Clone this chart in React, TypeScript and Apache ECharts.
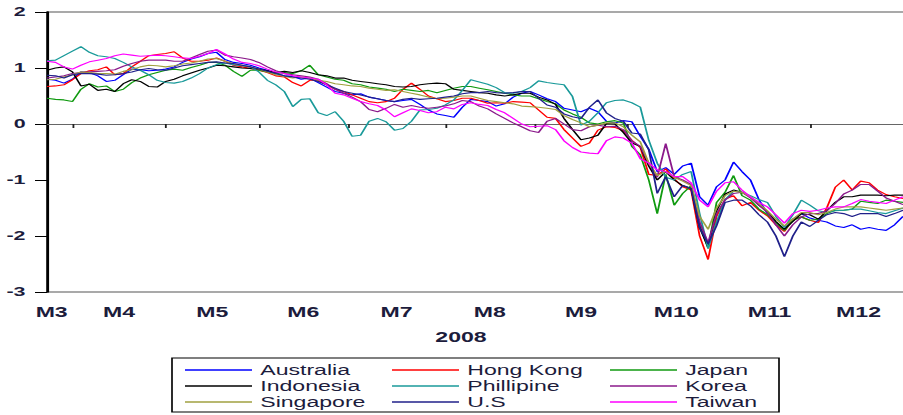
import React, { useEffect, useRef } from 'react';
import * as echarts from 'echarts';

// Trading-day index (weekdays from 24 Mar 2008), sampled every STEP days
const STEP = 2;
const X_MAX = 205;
const monthTicks = [6, 28, 50, 71, 94, 115, 137, 160, 180];
const monthLabelPos = [1.1, 17, 39, 60.5, 82.5, 104.5, 126, 148.5, 170.5, 191.5];
const monthLabels = ['M3', 'M4', 'M5', 'M6', 'M7', 'M8', 'M9', 'M10', 'M11', 'M12'];
const yearLabel = '2008';
const Y_MIN = -3;
const Y_MAX = 2;
const Y_INTERVAL = 1;

const seriesNames = ['Australia', 'Hong Kong', 'Japan', 'Indonesia', 'Phillipine', 'Korea', 'Singapore', 'U.S', 'Taiwan'];
const seriesColors = ['#0000ff', '#ff0000', '#109a10', '#000000', '#1a9a9a', '#8b1a8b', '#a0a040', '#20208a', '#ff00ff'];
const legendCols = [
  ['Australia', 'Indonesia', 'Singapore'],
  ['Hong Kong', 'Phillipine', 'U.S'],
  ['Japan', 'Korea', 'Taiwan'],
];

const australia = [
  0.80, 0.78, 0.73, 0.80, 0.93, 0.92, 0.86, 0.76, 0.78, 0.88,
  0.98, 0.97, 0.95, 0.96, 0.98, 1.02, 1.10, 1.16, 1.20, 1.26,
  1.28, 1.15, 1.10, 1.08, 1.05, 1.00, 0.96, 0.90, 0.86, 0.85,
  0.80, 0.82, 0.74, 0.66, 0.58, 0.55, 0.52, 0.54, 0.48, 0.45,
  0.42, 0.40, 0.42, 0.44, 0.35, 0.25, 0.18, 0.15, 0.12, 0.30,
  0.44, 0.42, 0.40, 0.32, 0.36, 0.48, 0.55, 0.58, 0.52, 0.45,
  0.40, 0.28, 0.25, 0.22, 0.28, 0.22, 0.05, 0.02, 0.06, 0.04,
  -0.22, -0.45, -0.85, -0.78, -0.90, -0.75, -0.70, -1.30, -1.45, -1.12,
  -1.00, -0.68, -0.85, -1.00, -1.35, -1.60, -1.80, -1.88, -1.70, -1.60,
  -1.68, -1.72, -1.75, -1.82, -1.85, -1.80, -1.88, -1.85, -1.88, -1.90,
  -1.80, -1.65,
];
const hongKong = [
  0.67, 0.68, 0.70, 0.79, 0.90, 0.95, 0.97, 1.02, 0.88, 0.90,
  1.02, 1.12, 1.22, 1.24, 1.26, 1.29, 1.18, 1.12, 1.12, 1.14,
  1.18, 1.12, 1.05, 1.02, 0.99, 0.96, 0.92, 0.86, 0.84, 0.74,
  0.68, 0.78, 0.78, 0.70, 0.62, 0.58, 0.52, 0.46, 0.40, 0.38,
  0.40, 0.46, 0.62, 0.73, 0.62, 0.50, 0.45, 0.40, 0.42, 0.46,
  0.46, 0.42, 0.37, 0.38, 0.37, 0.40, 0.39, 0.38, 0.25, 0.12,
  0.10, -0.10, -0.25, -0.40, -0.34, -0.11, -0.05, -0.06, -0.12, -0.29,
  -0.42, -0.90, -0.92, -0.80, -0.98, -1.12, -1.18, -2.00, -2.42, -1.65,
  -1.34, -1.28, -1.46, -1.40, -1.54, -1.64, -1.80, -1.92, -1.70, -1.66,
  -1.72, -1.76, -1.50, -1.13, -1.00, -1.18, -1.02, -1.05, -1.18, -1.26,
  -1.30, -1.33,
];
const japan = [
  0.46, 0.44, 0.43, 0.40, 0.62, 0.72, 0.66, 0.68, 0.58, 0.62,
  0.74, 0.82, 0.88, 0.92, 0.96, 0.98, 0.96, 1.01, 1.05, 1.10,
  1.10, 1.05, 0.94, 0.85, 0.96, 0.96, 0.93, 0.90, 0.92, 0.90,
  0.95, 1.05, 0.88, 0.84, 0.80, 0.78, 0.72, 0.70, 0.66, 0.64,
  0.62, 0.58, 0.62, 0.60, 0.58, 0.60, 0.56, 0.60, 0.64, 0.67,
  0.67, 0.64, 0.61, 0.58, 0.55, 0.52, 0.50, 0.50, 0.45, 0.40,
  0.36, 0.25, 0.18, 0.12, 0.02, 0.00, 0.04, 0.06, 0.02, -0.40,
  -0.55, -1.00, -1.60, -0.90, -1.45, -1.24, -1.10, -1.80, -2.22, -1.40,
  -1.22, -0.92, -1.28, -1.36, -1.52, -1.62, -1.76, -1.90, -1.72, -1.66,
  -1.72, -1.70, -1.60, -1.54, -1.54, -1.52, -1.38, -1.40, -1.42, -1.36,
  -1.38, -1.40,
];
const indonesia = [
  0.96, 1.00, 1.02, 0.93, 0.68, 0.71, 0.60, 0.62, 0.58, 0.72,
  0.79, 0.76, 0.67, 0.66, 0.76, 0.80, 0.86, 0.91, 0.96, 1.00,
  1.05, 1.04, 1.02, 1.00, 0.99, 0.98, 0.95, 0.92, 0.94, 0.92,
  0.95, 0.92, 0.88, 0.86, 0.82, 0.82, 0.78, 0.76, 0.74, 0.72,
  0.70, 0.67, 0.66, 0.67, 0.70, 0.72, 0.73, 0.72, 0.62, 0.60,
  0.58, 0.56, 0.55, 0.52, 0.50, 0.52, 0.55, 0.55, 0.48, 0.43,
  0.35, 0.10, -0.10, -0.28, -0.25, -0.20, 0.01, 0.00, -0.15, -0.34,
  -0.40, -0.75, -1.00, -0.85, -1.00, -1.10, -1.15, -1.85, -2.20, -1.55,
  -1.25, -1.18, -1.22, -1.30, -1.45, -1.56, -1.74, -1.88, -1.74, -1.60,
  -1.62, -1.70, -1.55, -1.40, -1.30, -1.30, -1.27, -1.27, -1.27, -1.28,
  -1.27, -1.27,
];
const phillipine = [
  1.13, 1.14, 1.22, 1.30, 1.38, 1.28, 1.22, 1.20, 1.17, 1.10,
  1.02, 0.96, 0.88, 0.78, 0.74, 0.73, 0.76, 0.82, 0.90, 1.00,
  1.06, 1.09, 1.06, 1.04, 1.02, 0.93, 0.78, 0.70, 0.58, 0.31,
  0.44, 0.45, 0.20, 0.15, 0.22, 0.05, -0.22, -0.20, 0.05, 0.10,
  0.04, -0.11, -0.08, 0.05, 0.25, 0.26, 0.28, 0.34, 0.43, 0.60,
  0.79, 0.75, 0.71, 0.65, 0.56, 0.55, 0.58, 0.65, 0.77, 0.74,
  0.72, 0.70, 0.49, -0.02, 0.05, 0.20, 0.38, 0.42, 0.43, 0.38,
  0.30, -0.29, -0.70, -0.95, -1.00, -0.90, -0.85, -1.60, -2.22, -1.75,
  -1.35, -1.20, -1.22, -1.28, -1.35, -1.40, -1.65, -1.85, -1.62, -1.36,
  -1.45, -1.55, -1.58, -1.55, -1.54, -1.52, -1.52, -1.55, -1.58, -1.60,
  -1.55, -1.50,
];
const korea = [
  0.82, 0.84, 0.86, 0.90, 0.92, 0.93, 0.94, 0.95, 0.97, 1.03,
  1.08, 1.12, 1.14, 1.14, 1.14, 1.12, 1.12, 1.18, 1.24, 1.30,
  1.32, 1.23, 1.20, 1.18, 1.15, 1.10, 1.02, 0.95, 0.90, 0.88,
  0.86, 0.84, 0.80, 0.72, 0.62, 0.55, 0.48, 0.40, 0.26, 0.22,
  0.28, 0.35, 0.30, 0.33, 0.30, 0.28, 0.30, 0.32, 0.36, 0.42,
  0.40, 0.32, 0.27, 0.18, 0.10, 0.02, -0.05, -0.12, -0.15, 0.05,
  0.10, 0.00, -0.10, -0.12, -0.05, -0.02, -0.05, -0.04, -0.10, -0.30,
  -0.40, -0.70, -0.95, -0.35, -0.94, -1.00, -1.08, -1.75, -2.12, -1.60,
  -1.36, -1.24, -1.22, -1.32, -1.45, -1.58, -1.80, -2.00, -1.80, -1.66,
  -1.60, -1.60, -1.55, -1.42, -1.25, -1.18, -1.08, -1.08, -1.20, -1.32,
  -1.38, -1.44,
];
const singapore = [
  0.79, 0.80, 0.84, 0.88, 0.93, 0.92, 0.90, 0.90, 0.89, 0.94,
  0.97, 1.02, 1.05, 1.04, 1.02, 1.04, 1.07, 1.09, 1.12, 1.16,
  1.17, 1.12, 1.08, 1.05, 1.02, 0.98, 0.93, 0.88, 0.85, 0.82,
  0.84, 0.82, 0.78, 0.76, 0.72, 0.70, 0.68, 0.67, 0.64, 0.62,
  0.60, 0.61, 0.58, 0.55, 0.52, 0.48, 0.45, 0.46, 0.48, 0.50,
  0.50, 0.46, 0.42, 0.40, 0.38, 0.36, 0.32, 0.31, 0.30, 0.28,
  0.26, 0.15, 0.08, 0.02, -0.05, -0.02, 0.02, 0.02, -0.05, -0.20,
  -0.32, -0.70, -0.92, -0.85, -0.95, -1.02, -1.10, -1.65, -1.88, -1.50,
  -1.28, -1.20, -1.22, -1.30, -1.42, -1.55, -1.70, -1.82, -1.70, -1.58,
  -1.58, -1.62, -1.58, -1.52, -1.48, -1.48, -1.48, -1.50, -1.52, -1.54,
  -1.52, -1.50,
];
const us = [
  0.87, 0.86, 0.82, 0.88, 0.90, 0.90, 0.89, 0.87, 0.88, 0.90,
  0.93, 0.97, 0.99, 0.97, 0.96, 1.00, 1.04, 1.06, 1.08, 1.10,
  1.11, 1.09, 1.08, 1.05, 1.02, 0.98, 0.94, 0.90, 0.86, 0.84,
  0.82, 0.80, 0.76, 0.70, 0.64, 0.58, 0.55, 0.52, 0.48, 0.45,
  0.42, 0.40, 0.44, 0.46, 0.44, 0.45, 0.46, 0.48, 0.50, 0.54,
  0.56, 0.56, 0.58, 0.56, 0.55, 0.56, 0.58, 0.58, 0.46, 0.34,
  0.30, 0.18, 0.13, 0.10, 0.30, 0.43, 0.20, 0.10, 0.05, -0.16,
  -0.18, -0.46, -1.24, -0.94, -1.30, -1.10, -1.15, -1.85, -2.14, -1.82,
  -1.40, -1.36, -1.36, -1.46, -1.62, -1.75, -2.00, -2.37, -2.00, -1.75,
  -1.83, -1.72, -1.62, -1.58, -1.60, -1.65, -1.60, -1.60, -1.60, -1.65,
  -1.60, -1.54,
];
const taiwan = [
  1.12, 1.10, 1.02, 0.98, 1.05, 1.11, 1.14, 1.17, 1.22, 1.25,
  1.23, 1.21, 1.22, 1.23, 1.22, 1.20, 1.18, 1.17, 1.21, 1.26,
  1.33, 1.25, 1.16, 1.10, 1.08, 1.04, 0.98, 0.93, 0.90, 0.86,
  0.84, 0.82, 0.80, 0.70, 0.55, 0.52, 0.46, 0.40, 0.36, 0.33,
  0.25, 0.13, 0.20, 0.27, 0.24, 0.20, 0.22, 0.30, 0.27, 0.35,
  0.38, 0.35, 0.33, 0.26, 0.20, 0.10, 0.00, -0.05, -0.04, -0.03,
  -0.10, -0.30, -0.42, -0.50, -0.52, -0.53, -0.30, -0.23, -0.25, -0.34,
  -0.62, -0.70, -0.82, -0.85, -0.94, -0.94, -1.05, -1.36, -1.48, -1.20,
  -1.05, -1.03, -1.18, -1.30, -1.40, -1.48, -1.62, -1.77, -1.60, -1.54,
  -1.56, -1.54, -1.50, -1.48, -1.48, -1.42, -1.35, -1.38, -1.40, -1.42,
  -1.36, -1.30,
];
const seriesValues = [australia, hongKong, japan, indonesia, phillipine, korea, singapore, us, taiwan];

// Layout: the source picture is horizontally stretched, so the chart is drawn narrower and scaled in X.
const SX = 1.65;
const CHART_W = 555;
const CHART_H = 415;
const FONT = '"Liberation Sans", Arial, sans-serif';
const TEXT_COLOR = '#1c1c3c';

export default function App() {
  const ref = useRef<HTMLDivElement>(null);

  useEffect(() => {
    if (!ref.current) return;
    const chart = echarts.init(ref.current, undefined, { renderer: 'svg' });
    const nearestLabel = (v: number) => {
      let best = 0;
      let bd = Infinity;
      monthLabelPos.forEach((p, i) => {
        const d = Math.abs(p - v);
        if (d < bd) { bd = d; best = i; }
      });
      return bd < 0.5 ? monthLabels[best] : '';
    };
    const option: any = {
      animation: false,
      backgroundColor: '#ffffff',
      grid: {
        left: 47 / SX, right: 0, top: 12, bottom: CHART_H - 292,
        show: true, borderColor: '#555555', borderWidth: 1.2, backgroundColor: 'transparent',
      },
      xAxis: {
        type: 'value', min: 0, max: X_MAX,
        axisLine: { show: true, lineStyle: { color: '#666666', width: 1.2 } },
        axisTick: { show: true, customValues: monthTicks, length: 4, lineStyle: { color: '#222222', width: 1.1 } },
        axisLabel: {
          show: true, customValues: monthLabelPos, formatter: (v: number) => nearestLabel(v),
          fontSize: 14, fontWeight: 'bold', color: TEXT_COLOR, fontFamily: FONT, margin: 13,
        },
        splitLine: { show: false },
      },
      yAxis: {
        type: 'value', min: Y_MIN, max: Y_MAX, interval: Y_INTERVAL,
        axisLine: { show: true, lineStyle: { color: '#000000', width: 1.5 } },
        axisTick: { show: true, length: 12 / SX, lineStyle: { color: '#000000', width: 1 } },
        axisLabel: { fontSize: 13, fontWeight: 'bold', color: TEXT_COLOR, fontFamily: FONT, margin: 13 },
        splitLine: { show: false },
      },
      legend: legendCols.map((names, c) => ({
        data: names,
        orient: 'vertical',
        left: [185, 392, 610][c] / SX,
        top: 363,
        padding: 0,
        icon: 'rect',
        itemWidth: 67 / SX,
        itemHeight: 1.3,
        itemGap: 2,
        selectedMode: false,
        textStyle: { fontSize: 14, color: TEXT_COLOR, fontFamily: FONT, lineHeight: 14 },
      })),
      graphic: [
        {
          type: 'rect',
          shape: { x: 172 / SX, y: 358, width: 607 / SX, height: 54 },
          style: { fill: 'none', stroke: '#000000', lineWidth: 1 },
          silent: true,
        },
        {
          type: 'text',
          x: 461 / SX,
          y: 337,
          style: {
            text: yearLabel, fontSize: 14, fontWeight: 'bold', fontFamily: FONT, fill: TEXT_COLOR,
            align: 'center', verticalAlign: 'middle', textAlign: 'center', textVerticalAlign: 'middle',
          },
          silent: true,
        },
      ],
      series: seriesNames.map((name, k) => ({
        name,
        type: 'line',
        data: seriesValues[k].map((v, i) => [i * STEP, v]),
        symbol: 'none',
        showSymbol: false,
        color: seriesColors[k],
        lineStyle: { color: seriesColors[k], width: 1.1 },
        itemStyle: { color: seriesColors[k] },
        emphasis: { disabled: true },
      })),
    };
    chart.setOption(option);
    return () => chart.dispose();
  }, []);

  return (
    <div style={{ position: 'fixed', left: 0, top: 0, width: 903, height: 415, overflow: 'hidden', background: '#ffffff' }}>
      <div
        ref={ref}
        style={{ width: CHART_W, height: CHART_H, transform: `scaleX(${SX})`, transformOrigin: '0 0' }}
      />
    </div>
  );
}
